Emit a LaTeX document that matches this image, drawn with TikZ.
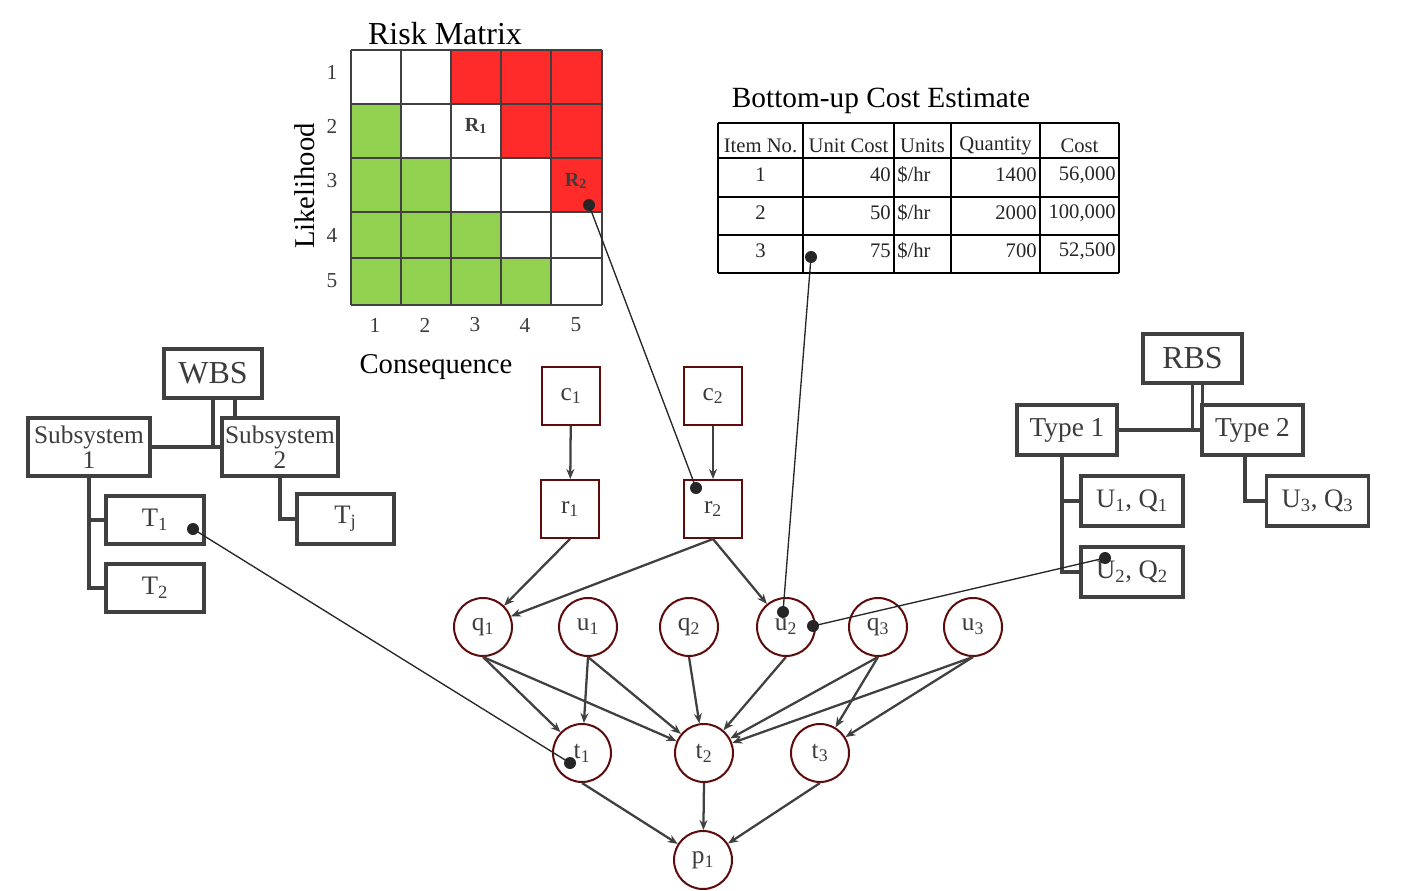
\documentclass[tikz,border=0pt]{standalone}
\usepackage{fontspec}
\setmainfont{Liberation Serif}
\usetikzlibrary{arrows.meta}
\definecolor{lineg}{HTML}{404040}
\definecolor{nodered}{HTML}{5E0B0B}
\definecolor{rmred}{HTML}{FF2A2A}
\definecolor{rmgreen}{HTML}{92D050}
\definecolor{txtg}{HTML}{3C3C3C}
\begin{document}
\begin{tikzpicture}[x=0.75pt,y=-0.75pt,
  netbox/.style={draw=nodered, line width=1.5pt, fill=white, minimum width=43.5pt, minimum height=43.5pt, inner sep=0pt, font=\fontsize{19}{22}\selectfont, text=txtg},
  netcirc/.style={circle, draw=nodered, line width=1.5pt, fill=white, minimum size=43.5pt, inner sep=0pt, font=\fontsize{19}{22}\selectfont, text=txtg},
  flow/.style={-{Stealth[length=7.5pt,width=6pt]}, draw=lineg, line width=1.7pt},
  treebox/.style={draw=lineg, line width=2.6pt, fill=white, inner sep=0pt, text=txtg, font=\fontsize{20}{20}\selectfont},
  treeline/.style={draw=lineg, line width=2.6pt},
  callout/.style={draw=black!85, line width=1pt},
  dotmark/.style={circle, fill=black!85, inner sep=0pt, minimum size=9pt},
  gridline/.style={draw=lineg, line width=1.5pt},
  tabline/.style={draw=black, line width=1.5pt},
  axisnum/.style={font=\fontsize{16}{16}\selectfont, text=txtg},
  tabtxt/.style={font=\fontsize{15.5}{16}\selectfont, text=black!85, inner sep=0pt},
  heading/.style={font=\fontsize{22}{22}\selectfont, text=black}
]
\useasboundingbox (0,0) rectangle (1424,891);

% ---------------- Risk matrix ----------------
\fill[rmred] (451,50) rectangle (602,104);
\fill[rmred] (501,104) rectangle (602,158);
\fill[rmred] (551,158) rectangle (602,212);
\fill[rmgreen] (351,104) rectangle (401,158);
\fill[rmgreen] (351,158) rectangle (451,212);
\fill[rmgreen] (351,212) rectangle (501,258);
\fill[rmgreen] (351,258) rectangle (551,305);
\foreach \xx in {351,401,451,501,551,602} \draw[gridline] (\xx,50) -- (\xx,305);
\foreach \yy in {50,104,158,212,258,305} \draw[gridline] (351,\yy) -- (602,\yy);
\node[heading, font=\fontsize{24}{24}\selectfont] (rmtitle) at (445,34) {Risk Matrix};
\node[axisnum] (l1) at (332,72) {1};
\node[axisnum] (l2) at (332,126) {2};
\node[axisnum] (l3) at (332,181) {3};
\node[axisnum] (l4) at (332,235) {4};
\node[axisnum] (l5) at (332,281) {5};
\node[axisnum] (k1) at (375,325) {1};
\node[axisnum] (k2) at (425,325) {2};
\node[axisnum] (k3) at (475,325) {3};
\node[axisnum] (k4) at (525,325) {4};
\node[axisnum] (k5) at (576,325) {5};
\node[font=\fontsize{21.5}{21.5}\selectfont, rotate=90] (likel) at (305,186) {Likelihood};
\node[font=\fontsize{21.5}{21.5}\selectfont] (conseq) at (436,367) {Consequence};
\node[font=\bfseries\fontsize{15}{15}\selectfont, text=txtg] (R1) at (476,126) {R\textsubscript{1}};
\node[font=\bfseries\fontsize{15}{15}\selectfont, text=txtg] (R2) at (576,181) {R\textsubscript{2}};

% ---------------- Cost table ----------------
\node[heading] (cetitle) at (881,101) {Bottom-up Cost Estimate};
\foreach \xx in {718,803,894,951,1040,1119} \draw[tabline] (\xx,123) -- (\xx,273);
\foreach \yy in {123,158,197,235,273} \draw[tabline] (718,\yy) -- (1119,\yy);
\node[tabtxt] (h1) at (760.5,146) {Item No.};
\node[tabtxt] (h2) at (848.5,146) {Unit Cost};
\node[tabtxt] (h3) at (922.5,146) {Units};
\node[tabtxt] (h4) at (995.5,146) {Quantity};
\node[tabtxt] (h5) at (1079.5,146) {Cost};
\node[tabtxt] (a1) at (760.5,175) {1};
\node[tabtxt, anchor=east] (b1) at (891,175) {40};
\node[tabtxt, anchor=west] (c1u) at (897,175) {\$/hr};
\node[tabtxt, anchor=east] (d1) at (1037,175) {1400};
\node[tabtxt, anchor=east] (e1) at (1116,175) {56,000};
\node[tabtxt] (a2) at (760.5,213) {2};
\node[tabtxt, anchor=east] (b2) at (891,213) {50};
\node[tabtxt, anchor=west] (c2u) at (897,213) {\$/hr};
\node[tabtxt, anchor=east] (d2) at (1037,213) {2000};
\node[tabtxt, anchor=east] (e2) at (1116,213) {100,000};
\node[tabtxt] (a3) at (760.5,251) {3};
\node[tabtxt, anchor=east] (b3) at (891,251) {75};
\node[tabtxt, anchor=west] (c3u) at (897,251) {\$/hr};
\node[tabtxt, anchor=east] (d3) at (1037,251) {700};
\node[tabtxt, anchor=east] (e3) at (1116,251) {52,500};

% ---------------- WBS ----------------
\node[treebox, minimum width=73.5pt, minimum height=36.75pt, font=\fontsize{24}{24}\selectfont] (wbs) at (213,373.5) {WBS};
\node[treebox, minimum width=91.5pt, minimum height=43.5pt, align=center, font=\fontsize{19}{19}\selectfont] (sub1) at (89,447) {Subsystem\\1};
\node[treebox, minimum width=87pt, minimum height=43.5pt, align=center, font=\fontsize{19}{19}\selectfont] (sub2) at (280,447) {Subsystem\\2};
\node[treebox, minimum width=73.5pt, minimum height=36pt] (t1b) at (155,520) {T\textsubscript{1}};
\node[treebox, minimum width=73.5pt, minimum height=36pt] (t2b) at (155,588) {T\textsubscript{2}};
\node[treebox, minimum width=72.75pt, minimum height=37.5pt] (tjb) at (345.5,519) {T\textsubscript{j}};
\draw[treeline] (wbs.south) -- (wbs.south |- sub1.east);
\draw[treeline] (sub1.east) -- (sub2.west);
\draw[treeline] ([xshift=16.5pt]wbs.south) -- ([xshift=16.5pt]wbs.south |- sub2.north);
\draw[treeline] (sub1.south) -- (sub1.south |- t2b.west) -- (t2b.west);
\draw[treeline] (sub1.south |- t1b.west) -- (t1b.west);
\draw[treeline] (sub2.south) -- (sub2.south |- tjb.west) -- (tjb.west);

% ---------------- RBS ----------------
\node[treebox, minimum width=74.25pt, minimum height=36.75pt, font=\fontsize{24}{24}\selectfont] (rbs) at (1192.5,358.5) {RBS};
\node[treebox, minimum width=75pt, minimum height=37.5pt, font=\fontsize{20.5}{20.5}\selectfont] (type1) at (1067,430) {Type 1};
\node[treebox, minimum width=75.75pt, minimum height=37.5pt, font=\fontsize{20.5}{20.5}\selectfont] (type2) at (1252.5,430) {Type 2};
\node[treebox, minimum width=76.5pt, minimum height=37.5pt] (uq1) at (1132,501) {U\textsubscript{1}, Q\textsubscript{1}};
\node[treebox, minimum width=76.5pt, minimum height=37.5pt] (uq2) at (1132,572) {U\textsubscript{2}, Q\textsubscript{2}};
\node[treebox, minimum width=76.5pt, minimum height=37.5pt] (uq3) at (1317.5,501) {U\textsubscript{3}, Q\textsubscript{3}};
\draw[treeline] (rbs.south) -- (rbs.south |- type1.east);
\draw[treeline] (type1.east) -- (type2.west);
\draw[treeline] ([xshift=7.5pt]rbs.south) -- ([xshift=7.5pt]rbs.south |- type2.north);
\draw[treeline] ([xshift=-3.75pt]type1.south) -- ([xshift=-3.75pt]type1.south |- uq2.west) -- (uq2.west);
\draw[treeline] ([xshift=-3.75pt]type1.south |- uq1.west) -- (uq1.west);
\draw[treeline] ([xshift=-5.6pt]type2.south) -- ([xshift=-5.6pt]type2.south |- uq3.west) -- (uq3.west);

% ---------------- Network ----------------
\node[netbox] (c1) at (571,396) {c\textsubscript{1}};
\node[netbox] (c2) at (713,396) {c\textsubscript{2}};
\node[netbox] (r1) at (570,509) {r\textsubscript{1}};
\node[netbox] (r2) at (713,509) {r\textsubscript{2}};
\node[netcirc] (q1) at (483,627) {q\textsubscript{1}};
\node[netcirc] (u1) at (588,627) {u\textsubscript{1}};
\node[netcirc] (q2) at (689,627) {q\textsubscript{2}};
\node[netcirc] (u2) at (786,627) {u\textsubscript{2}};
\node[netcirc] (q3) at (878,627) {q\textsubscript{3}};
\node[netcirc] (u3) at (973,627) {u\textsubscript{3}};
\node[netcirc] (t1) at (582,753) {t\textsubscript{1}};
\node[netcirc] (t2) at (704,753) {t\textsubscript{2}};
\node[netcirc] (t3) at (820,753) {t\textsubscript{3}};
\node[netcirc] (p1) at (703,860) {p\textsubscript{1}};

\draw[flow] (c1) -- (r1);
\draw[flow] (c2) -- (r2);
\draw[flow] (r1.south) -- (q1);
\draw[flow] (r2.south) -- (q1);
\draw[flow] (r2.south) -- (u2);
\draw[flow] (q1.south) -- (t1);
\draw[flow] (q1.south) -- (t2);
\draw[flow] (u1.south) -- (t1);
\draw[flow] (u1.south) -- (t2);
\draw[flow] (q2.south) -- (t2);
\draw[flow] (u2.south) -- (t2);
\draw[flow] (q3.south) -- (t2);
\draw[flow] (q3.south) -- (t3);
\draw[flow] (u3.south) -- (t2);
\draw[flow] (u3.south) -- (t3);
\draw[flow] (t1.south) -- (p1);
\draw[flow] (t2.south) -- (p1);
\draw[flow] (t3.south) -- (p1);

% ---------------- Callouts ----------------
\node[dotmark] (d1a) at (589,205) {};
\node[dotmark] (d1b) at (696,488) {};
\node[dotmark] (d2a) at (811,257) {};
\node[dotmark] (d2b) at (783,612) {};
\node[dotmark] (d3a) at (193,529) {};
\node[dotmark] (d3b) at (570,763) {};
\node[dotmark] (d4a) at (1105,558) {};
\node[dotmark] (d4b) at (813,626) {};
\draw[callout] (d1a.center) -- (d1b.center);
\draw[callout] (d2a.center) -- (d2b.center);
\draw[callout] (d3a.center) -- (d3b.center);
\draw[callout] (d4a.center) -- (d4b.center);
\end{tikzpicture}
\end{document}
